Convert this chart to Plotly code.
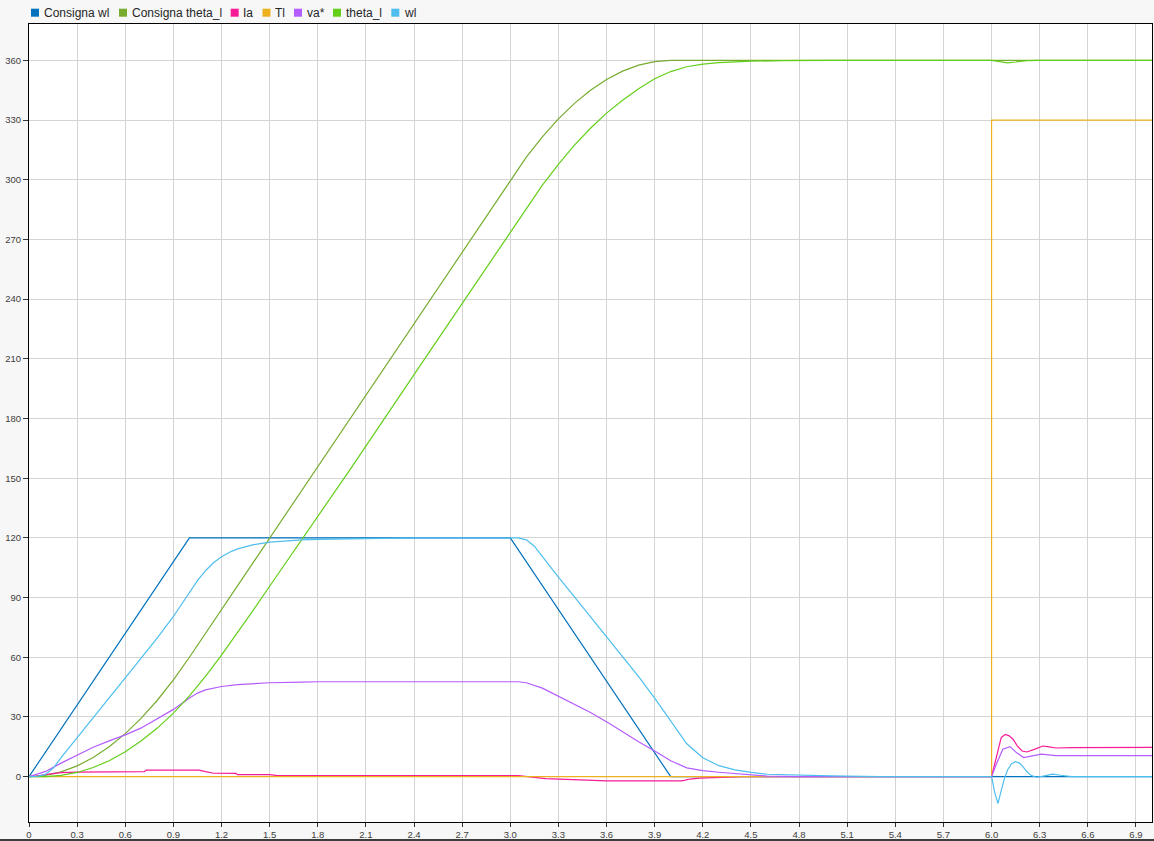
import plotly.graph_objects as go

# ---------------- data ----------------
consigna_wl_t = [0, 1.0, 3.0, 4.0, 7.0]
consigna_wl = [0, 120, 120, 0, 0]

consigna_theta_t = [0, 0.1, 0.2, 0.3, 0.4, 0.5, 0.6, 0.7, 0.8, 0.9, 1.0, 2.0, 3.0,
                    3.1, 3.2, 3.3, 3.4, 3.5, 3.6, 3.7, 3.8, 3.9, 4.0, 7.0]
consigna_theta = [0, 0.6, 2.4, 5.4, 9.6, 15, 21.6, 29.4, 38.4, 48.6, 60, 180, 300,
                  311.4, 321.6, 330.6, 338.4, 345, 350.4, 354.6, 357.6, 359.4, 360, 360]

ia_t = [0, 0.05, 0.1, 0.15, 0.2, 0.3, 0.45, 0.5, 0.72, 0.73,
        1.06, 1.1, 1.15, 1.29, 1.3, 1.5, 1.55,
        3.05, 3.1, 3.15, 3.22, 3.35, 3.5, 3.6,
        4.07, 4.12, 4.18, 4.3, 4.45,
        6.0, 6.03, 6.06, 6.085, 6.11, 6.135, 6.16, 6.19, 6.22, 6.27, 6.32, 6.36, 6.4, 6.5, 7.0]
ia = [0, 0.3, 1.0, 1.6, 2.0, 2.3, 2.4, 2.5, 2.5, 3.3,
      3.3, 2.5, 1.7, 1.6, 1.0, 1.0, 0.5,
      0.5, 0, -0.5, -1.0, -1.4, -1.8, -2.1,
      -2.1, -1.2, -0.7, -0.3, 0,
      0, 10.4, 19.6, 21.2, 20.5, 18.7, 15.5, 12.9, 12.4, 13.8, 15.4, 15.0, 14.4, 14.6, 14.7]

tl_t = [0, 6.0, 6.0, 7.0]
tl = [0, 0, 330, 330]

va_t = [0, 0.1, 0.2, 0.3, 0.4, 0.5, 0.6, 0.7, 0.8, 0.9,
        1.0, 1.05, 1.1, 1.2, 1.3, 1.4, 1.5, 1.7, 1.8,
        3.05, 3.1, 3.2, 3.3, 3.4, 3.5, 3.6, 3.7, 3.8, 3.9, 4.0, 4.1, 4.2, 4.3, 4.4, 4.5, 4.6,
        4.8, 6.0, 6.03, 6.07, 6.115, 6.155, 6.2, 6.25, 6.31, 6.4, 7.0]
va = [0, 2.5, 6.8, 11, 14.8, 18, 21, 24.5, 29, 33.8,
      39.5, 42, 43.6, 45.3, 46.2, 46.8, 47.2, 47.5, 47.7,
      47.7, 47.2, 44.5, 40.5, 36.5, 32.2, 27.6, 22.4, 17.5, 12.9, 8.0, 4.4, 3.0, 2.2, 1.5, 0.8, 0.3,
      0, 0, 6.3, 13.8, 15.1, 12.1, 9.6, 10.4, 11.3, 10.6, 10.6]

theta_t = [0, 0.1, 0.2, 0.3, 0.4, 0.5, 0.6, 0.7, 0.8, 0.9, 1.0,
           1.1, 1.2, 1.3, 1.4, 1.5, 1.6, 1.7, 1.8,
           2.0, 2.5, 3.0,
           3.1, 3.2, 3.3, 3.4, 3.5, 3.6, 3.7, 3.8, 3.9, 4.0, 4.1, 4.2, 4.3, 4.4, 4.5,
           4.7, 5.0, 6.0, 6.05, 6.1, 6.15, 6.22, 6.3, 7.0]
theta = [0, 0.05, 0.6, 2.1, 4.6, 8.0, 12.5, 18.0, 24.4, 31.9, 40.6,
         50.4, 61.1, 72.4, 83.9, 95.7, 107.4, 119.2, 130.3,
         154.2, 214.0, 273.9,
         285.8, 297.3, 307.8, 317.4, 325.9, 333.5, 340.0, 345.8, 350.8, 354.4, 356.8, 358.1, 358.9, 359.3, 359.6,
         359.85, 360, 360, 359.5, 358.8, 359.2, 359.9, 360, 360]

wl_t = [0, 0.05, 0.1, 0.15, 0.2, 0.3, 0.4, 0.5, 0.6, 0.7, 0.8, 0.9, 0.95, 1.0, 1.05, 1.1, 1.15,
        1.2, 1.25, 1.3, 1.4, 1.5, 1.6, 1.7, 1.8, 2.0, 2.2, 2.4,
        3.05, 3.1, 3.15, 3.2, 3.3, 3.4, 3.5, 3.6, 3.7, 3.8, 3.9, 4.0, 4.1, 4.2, 4.3, 4.4, 4.5, 4.6,
        4.8, 5.0, 5.3, 6.0, 6.02, 6.04, 6.06, 6.08, 6.1, 6.125, 6.15, 6.175, 6.2, 6.225, 6.25,
        6.28, 6.33, 6.38, 6.43, 6.5, 7.0]
wl = [0, 0.1, 1.0, 4.2, 9.5, 19.7, 29.7, 39.7, 49.7, 59.7, 69.7, 80.5, 86.5, 92.5, 98.5, 103.5, 107.5,
      110.5, 112.8, 114.5, 116.6, 117.9, 118.6, 119.0, 119.3, 119.6, 119.8, 120,
      120, 119, 115.8, 110.5, 100.3, 90.3, 80.3, 70.3, 60.3, 50.3, 39.5, 28, 16.5, 9.5, 5.5, 3.4, 2.1, 1.2,
      0.7, 0.4, 0, 0, -8, -13.5, -7, -1, 3.5, 6.5, 7.5, 6.8, 4.5, 2, 0.5,
      -0.3, 0.4, 1.3, 0.7, 0, 0]

series_names = ["Consigna wl", "Consigna theta_l", "Ia", "Tl", "va*", "theta_l", "wl"]
series_colors = ["#0072BD", "#77AC30", "#F81B98", "#EDB120", "#B45CFF", "#63CF19", "#4DBEEE"]

x_tick_labels = ["0", "0.3", "0.6", "0.9", "1.2", "1.5", "1.8", "2.1", "2.4", "2.7", "3.0", "3.3",
                 "3.6", "3.9", "4.2", "4.5", "4.8", "5.1", "5.4", "5.7", "6.0", "6.3", "6.6", "6.9"]
y_tick_labels = ["0", "30", "60", "90", "120", "150", "180", "210", "240", "270", "300", "330", "360"]

# ---------------- figure ----------------
W, H = 1154, 841
L, R, T, B = 29, 2, 24, 19
pw, ph = W - L - R, H - T - B


def px_x(px):
    return (px - L) / pw


def px_y(py):
    return (H - B - py) / ph


fig = go.Figure()
data_pairs = [(consigna_wl_t, consigna_wl), (consigna_theta_t, consigna_theta), (ia_t, ia),
              (tl_t, tl), (va_t, va), (theta_t, theta), (wl_t, wl)]
for (xs, ys), name, col in zip(data_pairs, series_names, series_colors):
    fig.add_trace(go.Scatter(x=xs, y=ys, mode="lines", name=name,
                             line=dict(color=col, width=1.2), showlegend=False))

# manual legend (compact squares like the original)
square_px = [31, 119, 230.7, 262.5, 294, 333, 391.3]
shapes = []
annotations = []
for sx, name, col in zip(square_px, series_names, series_colors):
    shapes.append(dict(type="rect", xref="paper", yref="paper",
                       x0=px_x(sx), x1=px_x(sx + 8), y0=px_y(16.7), y1=px_y(8.7),
                       fillcolor=col, line=dict(width=0)))
    annotations.append(dict(text=name, xref="paper", yref="paper",
                            x=px_x(sx + 10.5), y=px_y(12.6), xanchor="left", yanchor="middle",
                            showarrow=False,
                            font=dict(family="Arial, Liberation Sans, sans-serif", size=12,
                                      color="#262626")))
# thin dark strip at the very bottom of the window
shapes.append(dict(type="rect", xref="paper", yref="paper",
                   x0=px_x(0), x1=px_x(W), y0=px_y(841), y1=px_y(839),
                   fillcolor="#3c3c3c", line=dict(width=0)))

axis_font = dict(family="Arial, Liberation Sans, sans-serif", size=9.5, color="#404040")
fig.update_layout(
    width=W, height=H,
    margin=dict(l=L, r=R, t=T, b=B, pad=0),
    paper_bgcolor="#f7f7f7", plot_bgcolor="white",
    shapes=shapes, annotations=annotations,
    showlegend=False,
    xaxis=dict(range=[0, 7], tickvals=[float(s) for s in x_tick_labels], ticktext=x_tick_labels,
               showgrid=True, gridcolor="#d4d4d4", gridwidth=1, zeroline=False,
               showline=True, linecolor="black", linewidth=1, mirror=True,
               ticks="outside", ticklen=4, tickcolor="#333", tickfont=axis_font),
    yaxis=dict(range=[-22.8, 378.3], tickvals=[float(s) for s in y_tick_labels], ticktext=y_tick_labels,
               showgrid=True, gridcolor="#d4d4d4", gridwidth=1, zeroline=False,
               showline=True, linecolor="black", linewidth=1, mirror=True,
               ticks="outside", ticklen=5, tickcolor="#333", tickfont=axis_font),
)

fig.write_html("out.html", config={"displayModeBar": False},
               post_script="document.body.style.margin='0';document.body.style.overflow='hidden';")
